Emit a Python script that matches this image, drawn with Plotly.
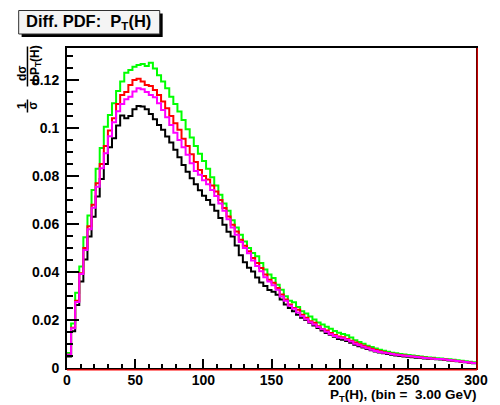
import numpy as np
import plotly.graph_objects as go

# Binning: 100 bins of 3 GeV from 0 to 300 GeV
bin_width = 3.0
x_low, x_high = 0.0, 300.0
bin_edges = np.arange(x_low, x_high + bin_width / 2, bin_width)

# Normalised differential cross sections, one value per bin
pt_black = [
    0.0048, 0.0153, 0.0262, 0.0360, 0.0452, 0.0548, 0.0630, 0.0714, 0.0787, 0.0850,
    0.0920, 0.0957, 0.1010, 0.1052, 0.1040, 0.1050, 0.1078, 0.1091, 0.1089, 0.1078,
    0.1058, 0.1036, 0.1012, 0.0992, 0.0964, 0.0939, 0.0909, 0.0878, 0.0846, 0.0818,
    0.0790, 0.0765, 0.0740, 0.0718, 0.0700, 0.0680, 0.0655, 0.0625, 0.0597, 0.0568,
    0.0548, 0.0510, 0.0470, 0.0440, 0.0418, 0.0402, 0.0377, 0.0356, 0.0342, 0.0325,
    0.0318, 0.0305, 0.0285, 0.0264, 0.0250, 0.0236, 0.0222, 0.0209, 0.0200, 0.0188,
    0.0177, 0.0167, 0.0156, 0.0146, 0.0139, 0.0130, 0.0121, 0.0118, 0.0112, 0.0105,
    0.0097, 0.0091, 0.0085, 0.0079, 0.0074, 0.0069, 0.0065, 0.0061, 0.0058, 0.0055,
    0.0052, 0.0050, 0.0048, 0.0047, 0.0045, 0.0043, 0.0042, 0.0040, 0.0039, 0.0037,
    0.0036, 0.0035, 0.0033, 0.0031, 0.0030, 0.0028, 0.0026, 0.0024, 0.0022, 0.0020,
]

pt_green = [
    0.0062, 0.0185, 0.0313, 0.0423, 0.0545, 0.0635, 0.0742, 0.0830, 0.0916, 0.1005,
    0.1054, 0.1103, 0.1154, 0.1193, 0.1230, 0.1241, 0.1255, 0.1262, 0.1266, 0.1258,
    0.1272, 0.1248, 0.1220, 0.1193, 0.1165, 0.1130, 0.1100, 0.1068, 0.1033, 0.0995,
    0.0960, 0.0925, 0.0893, 0.0862, 0.0830, 0.0795, 0.0760, 0.0722, 0.0685, 0.0655,
    0.0615, 0.0585, 0.0555, 0.0527, 0.0500, 0.0479, 0.0465, 0.0437, 0.0410, 0.0389,
    0.0375, 0.0347, 0.0326, 0.0299, 0.0280, 0.0274, 0.0254, 0.0236, 0.0227, 0.0215,
    0.0202, 0.0190, 0.0181, 0.0172, 0.0163, 0.0154, 0.0147, 0.0142, 0.0136, 0.0127,
    0.0116, 0.0108, 0.0101, 0.0093, 0.0087, 0.0081, 0.0076, 0.0072, 0.0068, 0.0064,
    0.0061, 0.0058, 0.0056, 0.0054, 0.0052, 0.0050, 0.0048, 0.0046, 0.0044, 0.0043,
    0.0041, 0.0040, 0.0038, 0.0036, 0.0034, 0.0032, 0.0030, 0.0028, 0.0026, 0.0024,
]

pt_red = [
    0.0055, 0.0168, 0.0280, 0.0395, 0.0500, 0.0590, 0.0680, 0.0770, 0.0850, 0.0925,
    0.0989, 0.1040, 0.1100, 0.1137, 0.1150, 0.1179, 0.1200, 0.1205, 0.1193, 0.1179,
    0.1175, 0.1158, 0.1137, 0.1110, 0.1082, 0.1050, 0.1020, 0.0992, 0.0955, 0.0925,
    0.0890, 0.0858, 0.0825, 0.0800, 0.0785, 0.0760, 0.0735, 0.0700, 0.0666, 0.0631,
    0.0597, 0.0569, 0.0534, 0.0509, 0.0486, 0.0458, 0.0437, 0.0417, 0.0389, 0.0368,
    0.0355, 0.0333, 0.0306, 0.0285, 0.0264, 0.0250, 0.0243, 0.0222, 0.0209, 0.0195,
    0.0188, 0.0174, 0.0162, 0.0156, 0.0146, 0.0137, 0.0131, 0.0128, 0.0121, 0.0114,
    0.0106, 0.0099, 0.0093, 0.0086, 0.0080, 0.0075, 0.0070, 0.0066, 0.0062, 0.0059,
    0.0056, 0.0054, 0.0052, 0.0050, 0.0048, 0.0047, 0.0045, 0.0043, 0.0041, 0.0040,
    0.0038, 0.0037, 0.0035, 0.0033, 0.0031, 0.0029, 0.0027, 0.0025, 0.0023, 0.0021,
]

pt_magenta = [
    0.0055, 0.0166, 0.0275, 0.0392, 0.0492, 0.0578, 0.0668, 0.0755, 0.0832, 0.0895,
    0.0965, 0.1024, 0.1070, 0.1100, 0.1120, 0.1130, 0.1152, 0.1165, 0.1161, 0.1150,
    0.1137, 0.1128, 0.1103, 0.1075, 0.1045, 0.1012, 0.0980, 0.0950, 0.0920, 0.0888,
    0.0853, 0.0821, 0.0805, 0.0782, 0.0765, 0.0742, 0.0717, 0.0685, 0.0655, 0.0620,
    0.0585, 0.0555, 0.0525, 0.0500, 0.0478, 0.0448, 0.0425, 0.0403, 0.0378, 0.0360,
    0.0345, 0.0326, 0.0298, 0.0280, 0.0259, 0.0247, 0.0231, 0.0216, 0.0203, 0.0191,
    0.0181, 0.0171, 0.0161, 0.0151, 0.0141, 0.0133, 0.0127, 0.0124, 0.0118, 0.0110,
    0.0101, 0.0095, 0.0088, 0.0082, 0.0076, 0.0071, 0.0067, 0.0064, 0.0061, 0.0058,
    0.0055, 0.0053, 0.0051, 0.0050, 0.0048, 0.0046, 0.0044, 0.0042, 0.0041, 0.0039,
    0.0038, 0.0037, 0.0035, 0.0033, 0.0031, 0.0029, 0.0027, 0.0025, 0.0023, 0.0021,
]

y_tick_vals = [0.0, 0.02, 0.04, 0.06, 0.08, 0.10, 0.12]
y_tick_text = ["0", "0.02", "0.04", "0.06", "0.08", "0.1", "0.12"]
x_tick_vals = [0, 50, 100, 150, 200, 250, 300]
x_tick_text = ["0", "50", "100", "150", "200", "250", "300"]

FONT = "Liberation Sans, Arial, Helvetica, sans-serif"
W, H = 500, 405
ML, MR, MT, MB = 67, 14, 48, 37
PW, PH = W - ML - MR, H - MT - MB


def px(xp):
    """Canvas pixel column -> paper x."""
    return (xp - ML) / PW


def py(yp):
    """Canvas pixel row -> paper y."""
    return (H - MB - yp) / PH


fig = go.Figure()

# Step-outline histograms, drawn in ROOT order (magenta last, on top)
for vals, col in [(pt_black, "#000000"), (pt_green, "#00ff00"),
                  (pt_red, "#ff0000"), (pt_magenta, "#ff00ff")]:
    fig.add_trace(go.Scatter(
        x=bin_edges, y=list(vals) + [vals[-1]],
        mode="lines", line=dict(color=col, width=2, shape="hv"),
        showlegend=False, hoverinfo="skip", cliponaxis=True,
    ))

shapes = []
# red frame lines along bottom and right edges
shapes.append(dict(type="line", xref="paper", yref="paper",
                   x0=0, x1=px(487), y0=py(369.8), y1=py(369.8),
                   line=dict(color="#ff0000", width=1.2), layer="above"))
shapes.append(dict(type="line", xref="paper", yref="paper",
                   x0=px(487.2), x1=px(487.2), y0=py(369.8), y1=py(48),
                   line=dict(color="#ff0000", width=1.2), layer="above"))
# title box with drop shadow
shapes.append(dict(type="rect", xref="paper", yref="paper",
                   x0=px(20.5), x1=px(165), y0=py(37), y1=py(13.5),
                   fillcolor="#000000", line=dict(width=0), layer="above"))
shapes.append(dict(type="rect", xref="paper", yref="paper",
                   x0=px(17.5), x1=px(162), y0=py(34), y1=py(10.5),
                   fillcolor="#f4f4f4", line=dict(color="#303030", width=1), layer="above"))
# fraction bars of the y-axis title (vertical because the title is rotated)
shapes.append(dict(type="line", xref="paper", yref="paper",
                   x0=px(26.5), x1=px(26.5), y0=py(99.5), y1=py(112.5),
                   line=dict(color="#000000", width=1.5), layer="above"))
shapes.append(dict(type="line", xref="paper", yref="paper",
                   x0=px(26.5), x1=px(26.5), y0=py(46.5), y1=py(86.5),
                   line=dict(color="#000000", width=1.5), layer="above"))

annotations = [
    dict(text="<b>Diff. PDF:  P<sub>T</sub>(H)</b>", xref="paper", yref="paper",
         x=px(89.5), y=py(22), xanchor="center", yanchor="middle", showarrow=False,
         font=dict(family=FONT, size=16.5, color="#000000")),
    dict(text="<b>P<sub>T</sub>(H), (bin =  3.00 GeV)</b>", xref="paper", yref="paper",
         x=px(488), y=py(395.5), xanchor="right", yanchor="middle", showarrow=False,
         font=dict(family=FONT, size=13.5, color="#000000")),
    # y-axis title: 1/sigma  d sigma / d P_T(H), rotated
    dict(text="<b>1</b>", xref="paper", yref="paper", x=px(21), y=py(106),
         xanchor="center", yanchor="middle", textangle=-90, showarrow=False,
         font=dict(family=FONT, size=12, color="#000000")),
    dict(text="<b>σ</b>", xref="paper", yref="paper", x=px(32), y=py(106),
         xanchor="center", yanchor="middle", textangle=-90, showarrow=False,
         font=dict(family=FONT, size=12, color="#000000")),
    dict(text="<b>dσ</b>", xref="paper", yref="paper", x=px(21), y=py(73),
         xanchor="center", yanchor="middle", textangle=-90, showarrow=False,
         font=dict(family=FONT, size=12, color="#000000")),
    dict(text="<b>d P<sub>T</sub>(H)</b>", xref="paper", yref="paper", x=px(35), y=py(66),
         xanchor="center", yanchor="middle", textangle=-90, showarrow=False,
         font=dict(family=FONT, size=12, color="#000000")),
]

axis_common = dict(
    showgrid=False, zeroline=False, showline=True, mirror=True,
    linecolor="#000000", linewidth=2, ticks="inside", tickcolor="#000000",
    tickwidth=1.5,
    tickfont=dict(family=FONT, size=14, color="#000000", weight="bold"),
)

fig.update_layout(
    width=W, height=H,
    margin=dict(l=ML, r=MR, t=MT, b=MB),
    paper_bgcolor="#ffffff", plot_bgcolor="#ffffff",
    xaxis=dict(range=[x_low, x_high], tickvals=x_tick_vals, ticktext=x_tick_text,
               ticklen=9, ticklabelstandoff=-2,
               minor=dict(ticks="inside", dtick=10, ticklen=4.5, tickcolor="#000000",
                          tickwidth=1.5),
               **axis_common),
    yaxis=dict(range=[0, 0.1333], tickvals=y_tick_vals, ticktext=y_tick_text,
               ticklen=12, ticklabelstandoff=3,
               minor=dict(ticks="inside", dtick=0.005, ticklen=6, tickcolor="#000000",
                          tickwidth=1.5),
               **axis_common),
    shapes=shapes,
    annotations=annotations,
    showlegend=False,
)

fig.write_html("out.html")
